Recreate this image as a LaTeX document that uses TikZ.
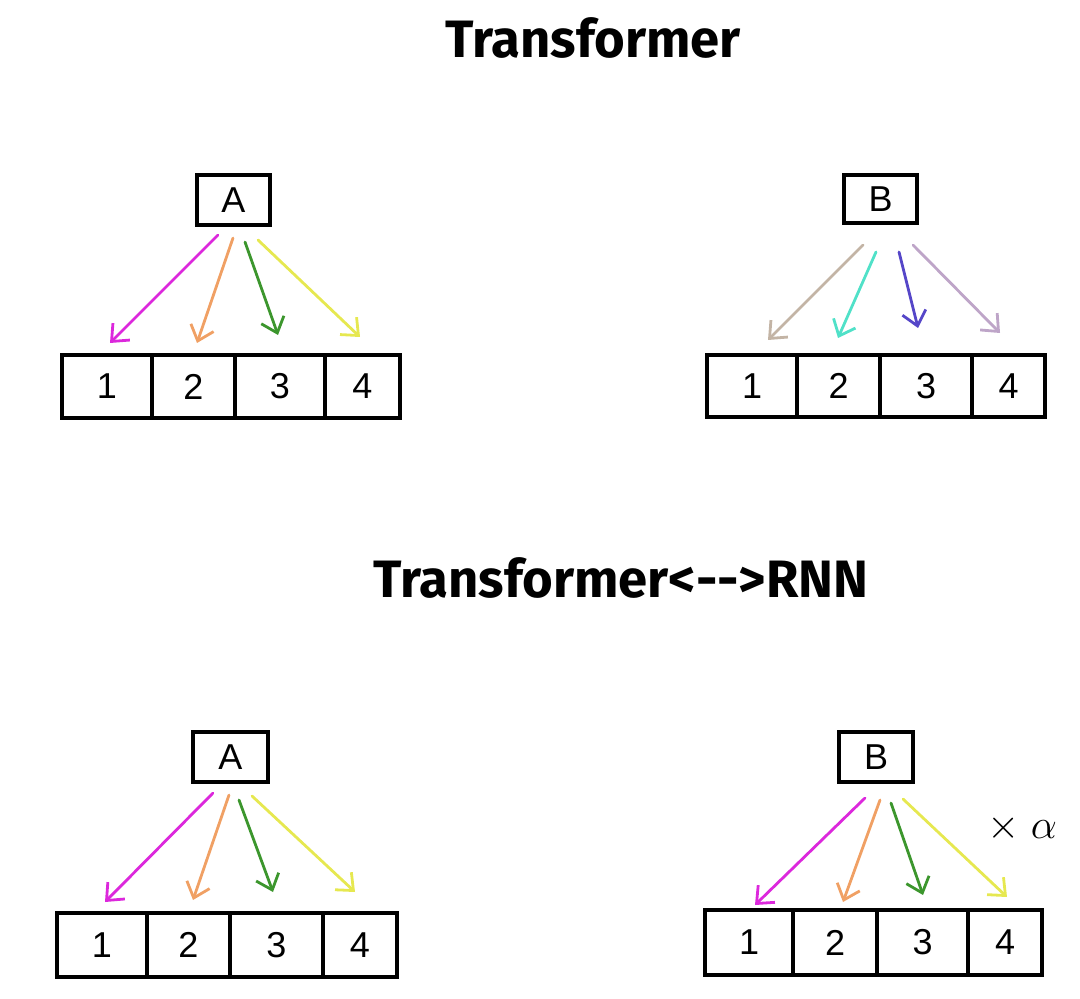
\documentclass[tikz,border=0pt]{standalone}
\usepackage{fontspec}
\setmainfont{Liberation Sans}
\newfontfamily\titlefont{Fira Sans}
\usetikzlibrary{arrows.meta,fit}
\definecolor{cmag}{RGB}{220,40,220}
\definecolor{corange}{RGB}{240,160,100}
\definecolor{cgreen}{RGB}{60,150,45}
\definecolor{cyellow}{RGB}{230,232,80}
\definecolor{ctaupe}{RGB}{195,180,165}
\definecolor{cteal}{RGB}{80,225,200}
\definecolor{cindigo}{RGB}{85,70,200}
\definecolor{clav}{RGB}{190,165,200}
\begin{document}
\begin{tikzpicture}[x=0.5pt,y=-0.5pt,
  lab/.style={font=\fontsize{18}{18}\selectfont,inner sep=0pt},
  box/.style={draw,line width=1.9pt,inner sep=0pt},
  cell/.style={draw,line width=1.9pt,inner sep=0pt},
  ptr/.style={line width=1.4pt,line cap=round,-{Straight Barb[length=7pt,width=12pt,line width=1.4pt]}},
  title/.style={font=\titlefont\bfseries\fontsize{26.3}{26}\selectfont}]
\useasboundingbox (0,0) rectangle (1080,999);

% titles
\node[title] (t1) at (593,38) {Transformer};
\node[title] (t2) at (621,578) {Transformer<{-}{-}>RNN};

% ===== top-left =====
\node[box,fit={(197,175)(270,225)},label={[lab]center:A}] (tlA) {};
\node[cell,fit={(62,355)(152,418)},label={[lab]center:1}] (tl1) {};
\node[cell,fit={(152,355)(235,418)},label={[lab]center:2}] (tl2) {};
\node[cell,fit={(235,355)(325,418)},label={[lab]center:3}] (tl3) {};
\node[cell,fit={(325,355)(400,418)},label={[lab]center:4}] (tl4) {};
\coordinate (tls1) at (218,235); \coordinate (tle1) at (110,343);
\coordinate (tls2) at (233,238); \coordinate (tle2) at (197,343);
\coordinate (tls3) at (245,242); \coordinate (tle3) at (278,335);
\coordinate (tls4) at (258,240); \coordinate (tle4) at (360,337);
\draw[ptr,cmag] (tls1) -- (tle1);
\draw[ptr,corange] (tls2) -- (tle2);
\draw[ptr,cgreen] (tls3) -- (tle3);
\draw[ptr,cyellow] (tls4) -- (tle4);

% ===== top-right =====
\node[box,fit={(844,175)(917,223)},label={[lab]center:B}] (trB) {};
\node[cell,fit={(707,355)(797,417)},label={[lab]center:1}] (tr1) {};
\node[cell,fit={(797,355)(880,417)},label={[lab]center:2}] (tr2) {};
\node[cell,fit={(880,355)(972,417)},label={[lab]center:3}] (tr3) {};
\node[cell,fit={(972,355)(1045,417)},label={[lab]center:4}] (tr4) {};
\coordinate (trs1) at (863,245); \coordinate (tre1) at (768,340);
\coordinate (trs2) at (876,252); \coordinate (tre2) at (838,338);
\coordinate (trs3) at (899,252); \coordinate (tre3) at (918,328);
\coordinate (trs4) at (913,245); \coordinate (tre4) at (1000,333);
\draw[ptr,ctaupe] (trs1) -- (tre1);
\draw[ptr,cteal] (trs2) -- (tre2);
\draw[ptr,cindigo] (trs3) -- (tre3);
\draw[ptr,clav] (trs4) -- (tre4);

% ===== bottom-left =====
\node[box,fit={(193,732)(268,782)},label={[lab]center:A}] (blA) {};
\node[cell,fit={(57,913)(147,977)},label={[lab]center:1}] (bl1) {};
\node[cell,fit={(147,913)(230,977)},label={[lab]center:2}] (bl2) {};
\node[cell,fit={(230,913)(323,977)},label={[lab]center:3}] (bl3) {};
\node[cell,fit={(323,913)(397,977)},label={[lab]center:4}] (bl4) {};
\coordinate (bls1) at (213,793); \coordinate (ble1) at (105,902);
\coordinate (bls2) at (229,795); \coordinate (ble2) at (193,900);
\coordinate (bls3) at (239,800); \coordinate (ble3) at (273,892);
\coordinate (bls4) at (252,796); \coordinate (ble4) at (355,892);
\draw[ptr,cmag] (bls1) -- (ble1);
\draw[ptr,corange] (bls2) -- (ble2);
\draw[ptr,cgreen] (bls3) -- (ble3);
\draw[ptr,cyellow] (bls4) -- (ble4);

% ===== bottom-right =====
\node[box,fit={(839,732)(913,782)},label={[lab]center:B}] (brB) {};
\node[cell,fit={(705,910)(793,975)},label={[lab]center:1}] (br1) {};
\node[cell,fit={(793,910)(877,975)},label={[lab]center:2}] (br2) {};
\node[cell,fit={(877,910)(968,975)},label={[lab]center:3}] (br3) {};
\node[cell,fit={(968,910)(1042,975)},label={[lab]center:4}] (br4) {};
\coordinate (brs1) at (865,798); \coordinate (bre1) at (755,905);
\coordinate (brs2) at (880,800); \coordinate (bre2) at (843,902);
\coordinate (brs3) at (891,803); \coordinate (bre3) at (923,895);
\coordinate (brs4) at (903,799); \coordinate (bre4) at (1007,897);
\draw[ptr,cmag] (brs1) -- (bre1);
\draw[ptr,corange] (brs2) -- (bre2);
\draw[ptr,cgreen] (brs3) -- (bre3);
\draw[ptr,cyellow] (brs4) -- (bre4);
\node[font=\fontsize{20}{20}\selectfont] (xa) at (1022,828) {$\times\;\alpha$};
\end{tikzpicture}
\end{document}
